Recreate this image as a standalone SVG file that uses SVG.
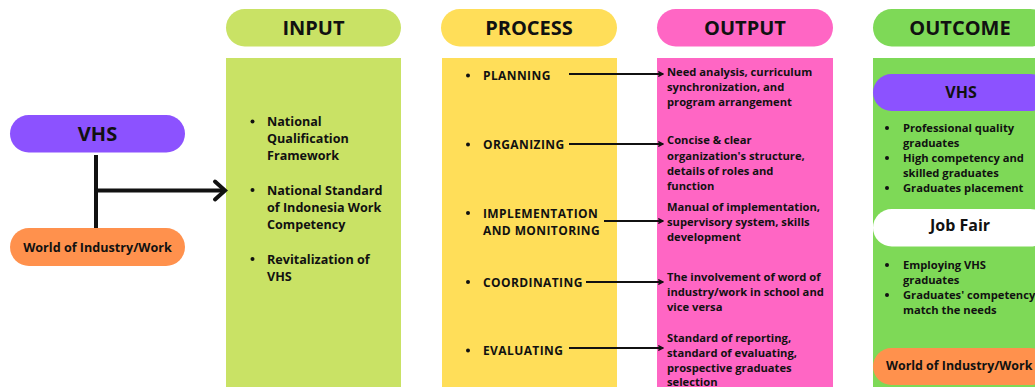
<svg xmlns="http://www.w3.org/2000/svg" width="1035" height="387" viewBox="0 0 1035 387">
  <style>
    text { font-family: "Open Sans", "Liberation Sans", sans-serif; font-weight: 700; fill: #111; }
    .head { font-size: 20px; text-anchor: middle; }
    .body { font-size: 12.6px; }
    .proc { font-size: 12px; letter-spacing: 0.4px; }
    .out { font-size: 11.2px; }
    .pill-label { text-anchor: middle; }
    .dot { fill: #111; }
    .thin { stroke: #111; stroke-width: 2; fill: none; }
    .thick { stroke: #111; stroke-width: 4; fill: none; }
  </style>
  <defs>
    <marker id="chev" viewBox="0 0 10 10" refX="9" refY="5" markerWidth="6" markerHeight="6" orient="auto" markerUnits="userSpaceOnUse">
      <path d="M1,1 L9,5 L1,9" fill="none" stroke="#111" stroke-width="2.4"/>
    </marker>
  </defs>
  <rect width="1035" height="387" fill="#ffffff"/>

  <!-- Column headers -->
  <g id="header-input">
    <rect x="226" y="9" width="175" height="37.5" rx="18.75" fill="#C9E265"/>
    <text class="head" x="313.5" y="35">INPUT</text>
  </g>
  <g id="header-process">
    <rect x="441" y="9" width="176" height="37.5" rx="18.75" fill="#FFDE59"/>
    <text class="head" x="529" y="35">PROCESS</text>
  </g>
  <g id="header-output">
    <rect x="657" y="9" width="176" height="37.5" rx="18.75" fill="#FF66C4"/>
    <text class="head" x="745" y="35">OUTPUT</text>
  </g>
  <g id="header-outcome">
    <rect x="873" y="9" width="176" height="37.5" rx="18.75" fill="#7ED957"/>
    <text class="head" x="960" y="35">OUTCOME</text>
  </g>

  <!-- Left-hand sources -->
  <g id="vhs">
    <rect x="10" y="115" width="175" height="37.5" rx="18.75" fill="#8C52FF"/>
    <text class="pill-label" x="97.5" y="140.5" font-size="20">VHS</text>
  </g>
  <g id="world">
    <rect x="10" y="228" width="175" height="38" rx="19" fill="#FF914D"/>
    <text class="pill-label" x="97.5" y="251.5" font-size="12.6">World of Industry/Work</text>
  </g>

  <!-- INPUT column -->
  <g id="input">
    <rect x="226" y="58" width="175" height="329" fill="#C9E265"/>
    <circle class="dot" cx="252.5" cy="121.5" r="2"/>
    <text class="body" x="267" y="126">National</text>
    <text class="body" x="267" y="143">Qualification</text>
    <text class="body" x="267" y="160">Framework</text>
    <circle class="dot" cx="252.5" cy="190" r="2"/>
    <text class="body" x="267" y="194.5">National Standard</text>
    <text class="body" x="267" y="211.5">of Indonesia Work</text>
    <text class="body" x="267" y="228.5">Competency</text>
    <circle class="dot" cx="252.5" cy="259" r="2"/>
    <text class="body" x="267" y="263.5">Revitalization of</text>
    <text class="body" x="267" y="280.5">VHS</text>
  </g>

  <!-- PROCESS column -->
  <g id="process">
    <rect x="442" y="58" width="175" height="329" fill="#FFDE59"/>
    <circle class="dot" cx="468" cy="75.5" r="2"/>
    <text class="proc" x="483" y="80">PLANNING</text>
    <circle class="dot" cx="468" cy="144.5" r="2"/>
    <text class="proc" x="483" y="149">ORGANIZING</text>
    <circle class="dot" cx="468" cy="213" r="2"/>
    <text class="proc" x="483" y="217.5">IMPLEMENTATION</text>
    <text class="proc" x="483" y="235">AND MONITORING</text>
    <circle class="dot" cx="468" cy="282" r="2"/>
    <text class="proc" x="483" y="286.5">COORDINATING</text>
    <circle class="dot" cx="468" cy="350.5" r="2"/>
    <text class="proc" x="483" y="355">EVALUATING</text>
  </g>

  <!-- OUTPUT column -->
  <g id="output">
    <rect x="657" y="58" width="176" height="329" fill="#FF66C4"/>
    <text class="out" x="667" y="75.7">Need analysis, curriculum</text>
    <text class="out" x="667" y="90.5">synchronization, and</text>
    <text class="out" x="667" y="105.7">program arrangement</text>
    <text class="out" x="667" y="144">Concise &amp; clear</text>
    <text class="out" x="667" y="159.7">organization's structure,</text>
    <text class="out" x="667" y="174.7">details of roles and</text>
    <text class="out" x="667" y="190">function</text>
    <text class="out" x="667" y="210.7">Manual of implementation,</text>
    <text class="out" x="667" y="226">supervisory system, skills</text>
    <text class="out" x="667" y="241">development</text>
    <text class="out" x="667" y="280.7">The involvement of word of</text>
    <text class="out" x="667" y="295.5">industry/work in school and</text>
    <text class="out" x="667" y="310.7">vice versa</text>
    <text class="out" x="667" y="341.7">Standard of reporting,</text>
    <text class="out" x="667" y="357">standard of evaluating,</text>
    <text class="out" x="667" y="372">prospective graduates</text>
    <text class="out" x="667" y="386">selection</text>
  </g>

  <!-- OUTCOME column -->
  <g id="outcome">
    <rect x="873" y="58" width="176" height="329" fill="#7ED957"/>
    <g id="outcome-vhs">
      <rect x="873" y="74" width="176" height="37" rx="18.5" fill="#8C52FF"/>
      <text class="pill-label" x="961" y="98" font-size="16">VHS</text>
    </g>
    <circle class="dot" cx="887" cy="128" r="2"/>
    <text class="out" x="903" y="132">Professional quality</text>
    <text class="out" x="903" y="147">graduates</text>
    <circle class="dot" cx="887" cy="158" r="2"/>
    <text class="out" x="903" y="162">High competency and</text>
    <text class="out" x="903" y="177">skilled graduates</text>
    <circle class="dot" cx="887" cy="188" r="2"/>
    <text class="out" x="903" y="192">Graduates placement</text>
    <g id="job-fair">
      <rect x="873" y="209" width="176" height="37.5" rx="18.75" fill="#ffffff"/>
      <text class="pill-label" x="960" y="231" font-size="16">Job Fair</text>
    </g>
    <circle class="dot" cx="887" cy="265" r="2"/>
    <text class="out" x="903" y="269">Employing VHS</text>
    <text class="out" x="903" y="284">graduates</text>
    <circle class="dot" cx="887" cy="295" r="2"/>
    <text class="out" x="903" y="299">Graduates' competency</text>
    <text class="out" x="903" y="314">match the needs</text>
    <g id="outcome-world">
      <rect x="873" y="348" width="176" height="37" rx="18.5" fill="#FF914D"/>
      <text x="886" y="369.5" font-size="12.4">World of Industry/Work</text>
    </g>
  </g>

  <!-- Connectors -->
  <g id="connectors">
    <line class="thick" x1="96" y1="155" x2="96" y2="228"/>
    <line class="thick" x1="96" y1="190.5" x2="225" y2="190.5"/>
    <polyline class="thick" points="215,181.5 225,190.5 215,199.5" stroke-linejoin="miter" stroke-linecap="round"/>
    <line class="thin" x1="569" y1="74" x2="663" y2="74" marker-end="url(#chev)"/>
    <line class="thin" x1="569" y1="144" x2="663" y2="144" marker-end="url(#chev)"/>
    <line class="thin" x1="604" y1="221" x2="663" y2="221" marker-end="url(#chev)"/>
    <line class="thin" x1="586" y1="282" x2="663" y2="282" marker-end="url(#chev)"/>
    <line class="thin" x1="569" y1="348" x2="663" y2="348" marker-end="url(#chev)"/>
  </g>
</svg>
